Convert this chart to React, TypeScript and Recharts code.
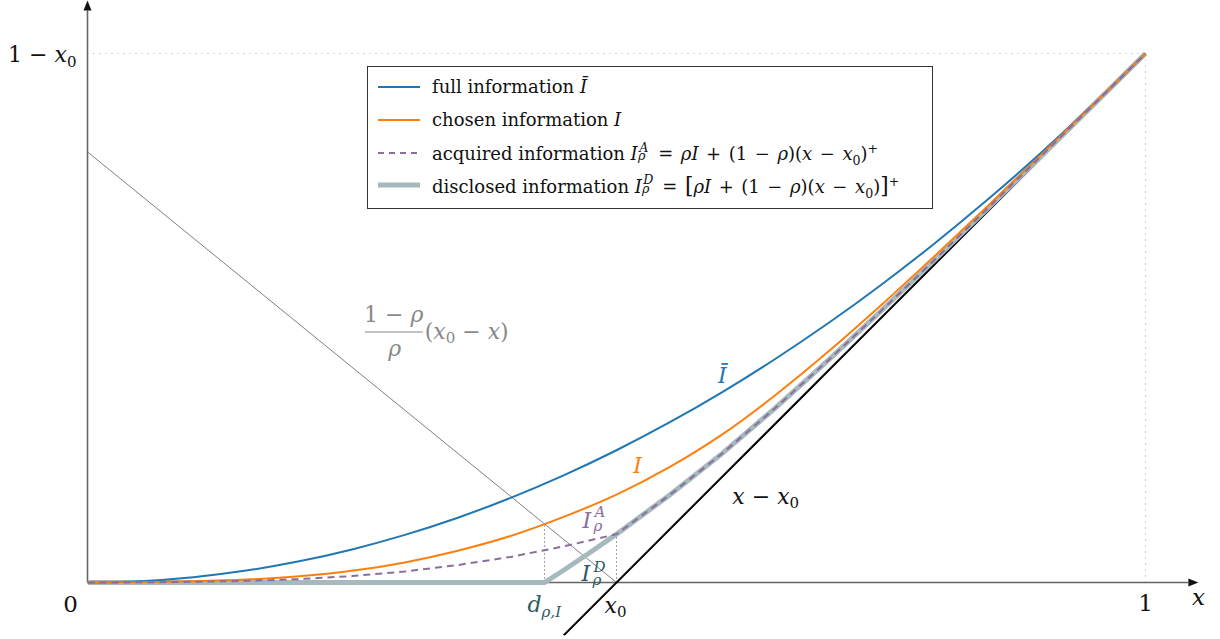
import React from 'react';
import { ComposedChart, Line, XAxis, YAxis, ReferenceLine, ReferenceDot, Legend } from 'recharts';

// sample points on the x axis (x0 = 0.5)
const xs = [0, 0.05, 0.1, 0.15, 0.2, 0.25, 0.3, 0.35, 0.4, 0.45, 0.5, 0.55, 0.6, 0.65, 0.7, 0.75, 0.8, 0.85, 0.9, 0.95, 1];

// full information Ī
const fullInfo = [0, 0.00125, 0.005, 0.01125, 0.02, 0.03125, 0.045, 0.06125, 0.08, 0.10125, 0.125, 0.15125, 0.18, 0.21125, 0.245, 0.28125, 0.32, 0.36125, 0.405, 0.45125, 0.5];

// chosen information I
const chosenInfo = [0, 0.0003, 0.0012, 0.0028, 0.0058, 0.011, 0.019, 0.03, 0.044, 0.062, 0.083, 0.109, 0.14, 0.177, 0.218, 0.262, 0.308, 0.355, 0.403, 0.451, 0.5];

// acquired information I^A
const acquiredInfo = [0, 0.00017, 0.00066, 0.00154, 0.0032, 0.00605, 0.01045, 0.0165, 0.0242, 0.0341, 0.0457, 0.0825, 0.122, 0.1649, 0.2099, 0.2566, 0.3044, 0.3528, 0.4017, 0.4506, 0.5];

// disclosed information I^D (kink at d)
const disclosedX = [0, 0.432, 0.45, 0.475, 0.5, 0.55, 0.6, 0.65, 0.7, 0.75, 0.8, 0.85, 0.9, 0.95, 1];
const disclosedInfo = [0, 0, 0.0116, 0.0284, 0.0457, 0.0825, 0.122, 0.1649, 0.2099, 0.2566, 0.3044, 0.3528, 0.4017, 0.4506, 0.5];

// straight lines
const diagX = [0.45, 1];
const diagY = [-0.05, 0.5];
const greyX = [0, 0.5];
const greyY = [0.407, 0];

const X0 = 0.5;
const D_POINT = 0.432;
const I_AT_D = 0.0543;

const toRows = (x: number[], y: number[]) => x.map((v, i) => ({ x: v, y: y[i] }));

const fullData = toRows(xs, fullInfo);
const chosenData = toRows(xs, chosenInfo);
const acquiredData = toRows(xs, acquiredInfo);
const disclosedData = toRows(disclosedX, disclosedInfo);
const diagData = toRows(diagX, diagY);
const greyData = toRows(greyX, greyY);

const FONT = '"DejaVu Serif", serif';
const TEAL = '#2c5b63';
const PURPLE = '#8c6e9e';
const GREY = '#888';

// axis line with arrow head
const ArrowAxis = (props: any) => {
  const { x1, y1, x2, y2 } = props;
  const dx = x2 - x1;
  const dy = y2 - y1;
  const len = Math.hypot(dx, dy) || 1;
  const ux = dx / len;
  const uy = dy / len;
  const L = 10;
  const W = 4;
  const bx = x2 - ux * L;
  const by = y2 - uy * L;
  const pts = `${x2},${y2} ${bx - uy * W},${by + ux * W} ${bx + uy * W},${by - ux * W}`;
  return (
    <g>
      <line x1={x1} y1={y1} x2={bx} y2={by} stroke="#666" strokeWidth={1.6} />
      <polygon points={pts} fill="#111" />
    </g>
  );
};

const txt = { fontFamily: FONT };

// labels, positioned from a data point
const labelShapes: Record<string, (cx: number, cy: number) => React.ReactNode> = {
  oneMinusX0: (cx, cy) => (
    <text x={cx - 11} y={cy + 8} textAnchor="end" fontSize={22} fill="#111" style={txt}>
      1 − <tspan fontStyle="italic">x</tspan><tspan fontSize={15} dy={5}>0</tspan>
    </text>
  ),
  zero: (cx, cy) => (
    <text x={cx - 17} y={cy + 29.5} textAnchor="middle" fontSize={23} fill="#111" style={txt}>0</text>
  ),
  one: (cx, cy) => (
    <text x={cx} y={cy + 28.5} textAnchor="middle" fontSize={23} fill="#111" style={txt}>1</text>
  ),
  xAxisName: (cx, cy) => (
    <text x={cx} y={cy + 22.5} textAnchor="middle" fontSize={23} fontStyle="italic" fill="#111" style={txt}>x</text>
  ),
  x0: (cx, cy) => (
    <text x={cx - 12} y={cy + 30.5} fontSize={22} fill="#111" style={txt}>
      <tspan fontStyle="italic">x</tspan><tspan fontSize={15} dy={4}>0</tspan>
    </text>
  ),
  d: (cx, cy) => (
    <g style={txt} fill={TEAL}>
      <text x={cx - 17} y={cy + 29.5} fontSize={22} fontStyle="italic">d</text>
      <text x={cx - 3} y={cy + 34} fontSize={15} fontStyle="italic">ρ,I</text>
    </g>
  ),
  iA: (cx, cy) => (
    <g style={txt} fill={PURPLE}>
      <text x={cx - 34} y={cy - 6} fontSize={22} fontStyle="italic">I</text>
      <text x={cx - 22} y={cy - 17} fontSize={15} fontStyle="italic">A</text>
      <text x={cx - 23} y={cy - 3} fontSize={15} fontStyle="italic">ρ</text>
    </g>
  ),
  iD: (cx, cy) => (
    <g style={txt} fill={TEAL}>
      <text x={cx - 35} y={cy - 2} fontSize={22} fontStyle="italic">I</text>
      <text x={cx - 23} y={cy - 11} fontSize={15} fontStyle="italic">D</text>
      <text x={cx - 24} y={cy + 2} fontSize={15} fontStyle="italic">ρ</text>
    </g>
  ),
  iBar: (cx, cy) => (
    <text x={cx} y={cy - 9} textAnchor="middle" fontSize={22} fontStyle="italic" fill="#1f77b4" style={txt}>Ī</text>
  ),
  iChosen: (cx, cy) => (
    <text x={cx + 21} y={cy - 22} textAnchor="middle" fontSize={22} fontStyle="italic" fill="#ff7f0e" style={txt}>I</text>
  ),
  diag: (cx, cy) => (
    <text x={cx + 10} y={cy + 6} fontSize={22} fill="#111" style={txt}>
      <tspan fontStyle="italic">x</tspan> − <tspan fontStyle="italic">x</tspan><tspan fontSize={15} dy={4}>0</tspan>
    </text>
  ),
  fraction: (cx, cy) => (
    <g style={txt} fill={GREY}>
      <text x={cx + 29} y={cy + 4} textAnchor="middle" fontSize={22}>
        1 − <tspan fontStyle="italic">ρ</tspan>
      </text>
      <line x1={cx} x2={cx + 58} y1={cy + 14} y2={cy + 14} stroke={GREY} strokeWidth={1.2} />
      <text x={cx + 30} y={cy + 38} textAnchor="middle" fontSize={22} fontStyle="italic">ρ</text>
      <text x={cx + 60} y={cy + 21} fontSize={22}>
        (<tspan fontStyle="italic">x</tspan><tspan fontSize={15} dy={4}>0</tspan><tspan dy={-4}> − </tspan><tspan fontStyle="italic">x</tspan>)
      </text>
    </g>
  ),
};

const labelAnchors = [
  { key: 'oneMinusX0', x: 0, y: 0.5 },
  { key: 'zero', x: 0, y: 0 },
  { key: 'one', x: 1, y: 0 },
  { key: 'xAxisName', x: 1.05, y: 0 },
  { key: 'x0', x: X0, y: 0 },
  { key: 'd', x: D_POINT, y: 0 },
  { key: 'iA', x: X0, y: 0.0457 },
  { key: 'iD', x: X0, y: 0 },
  { key: 'iBar', x: 0.6, y: 0.18 },
  { key: 'iChosen', x: X0, y: 0.083 },
  { key: 'diag', x: 0.6, y: 0.08 },
  { key: 'fraction', x: 0.262, y: 0.25 },
];

// stacked superscript / subscript after a symbol (legend)
const SubSup = ({ sup, sub }: { sup: string; sub: string }) => (
  <span style={{ display: 'inline-block', position: 'relative', width: '0.72em', height: '1em', verticalAlign: 'baseline' }}>
    <span style={{ position: 'absolute', left: '0.12em', top: '-0.02em', fontSize: '0.7em', fontStyle: 'italic', lineHeight: 1 }}>{sup}</span>
    <span style={{ position: 'absolute', left: '0.02em', top: '0.64em', fontSize: '0.7em', fontStyle: 'italic', lineHeight: 1 }}>{sub}</span>
  </span>
);

// math operator with a little extra room around it
const Op = ({ c }: { c: string }) => <span style={{ margin: '0 0.42em' }}>{c}</span>;

const sub0 = <sub style={{ fontSize: '0.7em', lineHeight: 0 }}>0</sub>;
const supPlus = <sup style={{ fontSize: '0.7em', lineHeight: 0 }}>+</sup>;

const legendRows = [
  { key: 'full', stroke: '#1f77b4', width: 2, dash: undefined, label: <>full information <i>Ī</i></> },
  { key: 'chosen', stroke: '#ff7f0e', width: 2, dash: undefined, label: <>chosen information <i>I</i></> },
  {
    key: 'acquired', stroke: PURPLE, width: 2, dash: '6 5',
    label: (
      <>acquired information <i>I</i><SubSup sup="A" sub="ρ" /><Op c="=" /><i>ρI</i><Op c="+" />(1<Op c="−" /><i>ρ</i>)(<i>x</i><Op c="−" /><i>x</i>{sub0}){supPlus}</>
    ),
  },
  {
    key: 'disclosed', stroke: '#a6b9bd', width: 5, dash: undefined,
    label: (
      <>disclosed information <i>I</i><SubSup sup="D" sub="ρ" /><Op c="=" /><span style={{ fontSize: '1.2em' }}>[</span><i>ρI</i><Op c="+" />(1<Op c="−" /><i>ρ</i>)(<i>x</i><Op c="−" /><i>x</i>{sub0})<span style={{ fontSize: '1.2em' }}>]</span>{supPlus}</>
    ),
  },
];

const LegendBox = () => (
  <div
    style={{
      width: 566, height: 143, boxSizing: 'border-box', border: '1px solid #333', background: '#fff',
      fontFamily: FONT, fontSize: 18, color: '#111', paddingTop: 4,
    }}
  >
    {legendRows.map((row) => (
      <div key={row.key} style={{ height: 32.7, display: 'flex', alignItems: 'center', whiteSpace: 'nowrap', lineHeight: 1 }}>
        <svg width={54} height={12} style={{ marginLeft: 10, flex: 'none' }}>
          <line x1={0} x2={42} y1={6} y2={6} stroke={row.stroke} strokeWidth={row.width} strokeDasharray={row.dash} />
        </svg>
        <span>{row.label}</span>
      </div>
    ))}
  </div>
);

export default function App() {
  return (
    <div style={{ position: 'absolute', left: 0, top: 0, width: 1220, height: 639, background: '#fff' }}>
      <ComposedChart width={1220} height={639} margin={{ top: 0.6, right: 21.6, bottom: 3.6, left: 87.5 }}>
        <XAxis type="number" dataKey="x" domain={[0, 1.05]} hide allowDataOverflow />
        <YAxis type="number" dataKey="y" domain={[-0.05, 0.55]} hide allowDataOverflow />

        <ReferenceLine segment={[{ x: 0, y: 0.5 }, { x: 1, y: 0.5 }]} stroke="#aaa" strokeDasharray="1 5" ifOverflow="visible" />
        <ReferenceLine segment={[{ x: 1, y: 0 }, { x: 1, y: 0.5 }]} stroke="#aaa" strokeDasharray="1 5" ifOverflow="visible" />
        <ReferenceLine segment={[{ x: D_POINT, y: 0 }, { x: D_POINT, y: I_AT_D }]} stroke="#444" strokeDasharray="1 3" ifOverflow="visible" />
        <ReferenceLine segment={[{ x: X0, y: 0 }, { x: X0, y: 0.0457 }]} stroke="#444" strokeDasharray="1 3" ifOverflow="visible" />

        <ReferenceLine segment={[{ x: 0, y: 0 }, { x: 0, y: 0.55 }]} shape={ArrowAxis} ifOverflow="visible" />
        <ReferenceLine segment={[{ x: 0, y: 0 }, { x: 1.05, y: 0 }]} shape={ArrowAxis} ifOverflow="visible" />

        <Line data={greyData} dataKey="y" type="linear" stroke="#808080" strokeWidth={1} dot={false} activeDot={false} isAnimationActive={false} />
        <Line data={diagData} dataKey="y" type="linear" stroke="#000" strokeWidth={2} dot={false} activeDot={false} isAnimationActive={false} />
        <Line data={disclosedData} dataKey="y" type="linear" stroke="#a6b9bd" strokeWidth={5} dot={false} activeDot={false} isAnimationActive={false} />
        <Line data={fullData} dataKey="y" type="monotone" stroke="#1f77b4" strokeWidth={2} dot={false} activeDot={false} isAnimationActive={false} />
        <Line data={chosenData} dataKey="y" type="monotone" stroke="#ff7f0e" strokeWidth={2} dot={false} activeDot={false} isAnimationActive={false} />
        <Line data={acquiredData} dataKey="y" type="linear" stroke={PURPLE} strokeWidth={2} strokeDasharray="7 5" dot={false} activeDot={false} isAnimationActive={false} />

        {labelAnchors.map((a) => (
          <ReferenceDot
            key={a.key}
            x={a.x}
            y={a.y}
            r={0}
            ifOverflow="visible"
            shape={(p: any) => <g>{labelShapes[a.key](p.cx, p.cy)}</g>}
          />
        ))}

        <Legend
          layout="vertical"
          align="center"
          verticalAlign="middle"
          wrapperStyle={{ left: 367, top: 66, width: 566 }}
          content={LegendBox}
        />
      </ComposedChart>
    </div>
  );
}
